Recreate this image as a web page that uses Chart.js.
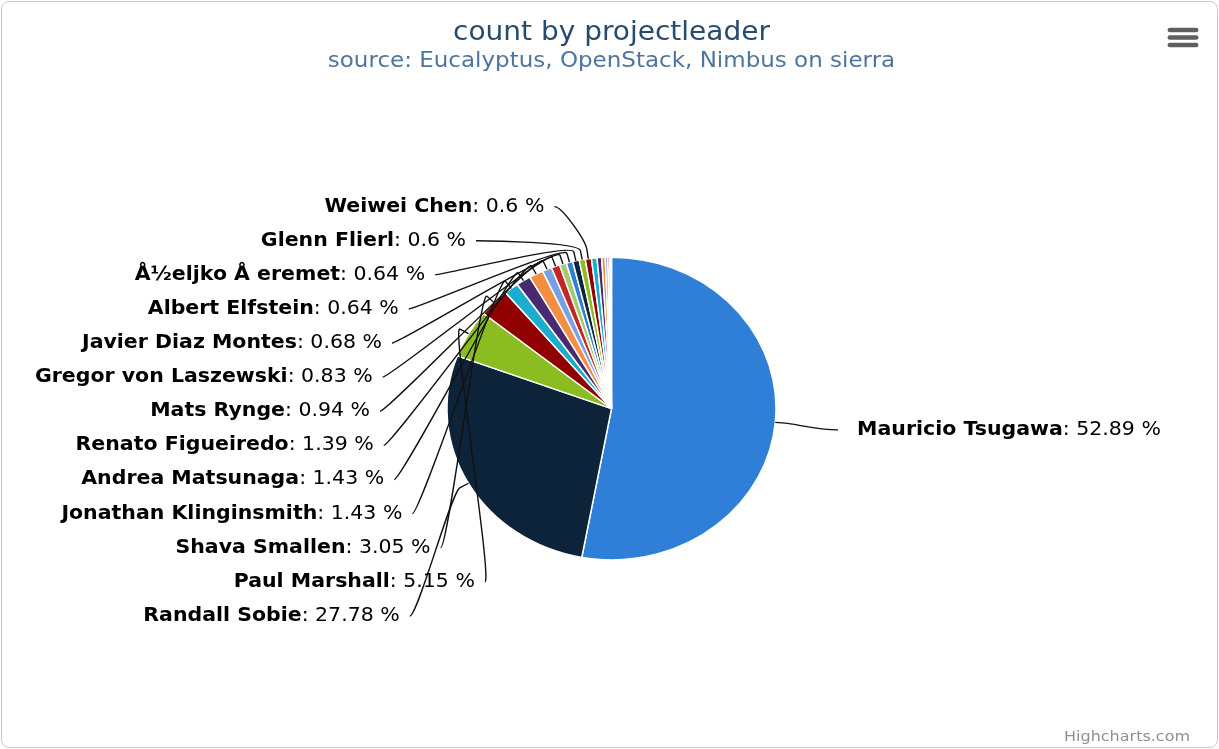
<!DOCTYPE html>
<html>
<head>
<meta charset="utf-8">
<title>count by projectleader</title>
<script src="https://cdn.jsdelivr.net/npm/chart.js@4.4.1/dist/chart.umd.min.js"></script>
<style>
  html, body { margin: 0; padding: 0; background: #fff; }
  #wrap { position: absolute; left: 0; top: 0; width: 1219px; height: 749px; overflow: hidden; }
  #frame { position: absolute; left: 1px; top: 1px; width: 1215px; height: 745px;
           border: 1px solid #c9c9c9; border-radius: 8px; pointer-events: none; }
</style>
</head>
<body>
<div id="wrap"><canvas id="pie" width="1219" height="814"></canvas></div>
<div id="frame"></div>
<script>
// labelled slices, in drawing order (clockwise from 12 o'clock)
const leaders = [
  'Mauricio Tsugawa', 'Randall Sobie', 'Paul Marshall', 'Shava Smallen',
  'Jonathan Klinginsmith', 'Andrea Matsunaga', 'Renato Figueiredo', 'Mats Rynge',
  'Gregor von Laszewski', 'Javier Diaz Montes', 'Albert Elfstein',
  'Å½eljko Å\u00a0eremet', 'Glenn Flierl', 'Weiwei Chen'
];
const shares = [52.89, 27.78, 5.15, 3.05, 1.43, 1.43, 1.39, 0.94, 0.83, 0.68, 0.64, 0.64, 0.6, 0.6];
// thin slivers left of 12 o'clock, their labels were dropped in the original
const unlabeledShares = [0.55, 0.45, 0.35, 0.25, 0.2, 0.15];

const palette = ['#2f7ed8', '#0d233a', '#8bbc21', '#910000', '#1aadce',
                 '#492970', '#f28f43', '#77a1e5', '#c42525', '#a6c96a'];
const titleText = 'count by projectleader';
const subtitleText = 'source: Eucalyptus, OpenStack, Nimbus on sierra';
const creditText = 'Highcharts.com';

const FONT = "'DejaVu Sans', Verdana, sans-serif";
const SQUASH = 0.92; // original picture was stretched wider than tall

const allShares = shares.concat(unlabeledShares);
const allLabels = leaders.concat(unlabeledShares.map(() => ''));
const colors = allShares.map((v, i) => palette[i % palette.length]);

const pieLabels = {
  id: 'pieLabels',
  beforeDraw(chart) {
    chart.ctx.save();
    chart.ctx.scale(1, SQUASH);
  },
  afterDatasetsDraw(chart) {
    const ctx = chart.ctx;
    const arcs = chart.getDatasetMeta(0).data;
    const r = arcs[0].outerRadius, cx = arcs[0].x, cy = arcs[0].y;
    const rx = r + 77, ry = r + 64, slotHalf = r + 58;
    const xGap = (y) => {
      const t = (y - cy) / ry;
      return rx * Math.sqrt(Math.max(0, 1 - t * t));
    };

    const items = leaders.map((name, i) => {
      const a = arcs[i];
      const mid = (a.startAngle + a.endAngle) / 2;
      const ny = cy + Math.sin(mid) * slotHalf;
      return { name, value: shares[i], mid, left: Math.cos(mid) < 0, ny, y: ny + 3, xy: ny };
    });

    // left side: stack labels in even slots, bottom slot for the first one
    const left = items.filter(d => d.left);
    const n = left.length;
    left.forEach((d, j) => {
      const slot = n - 1 - j;
      d.y = cy + 3 - slotHalf + slot * (2 * slotHalf / (n - 1));
      d.xy = (slot === n - 1) ? d.ny : d.y;
    });

    ctx.save();
    ctx.textBaseline = 'middle';
    ctx.strokeStyle = '#111';
    ctx.lineWidth = 1.4;
    items.forEach(d => {
      const boldFont = 'bold 20.5px ' + FONT;
      const normFont = '20.5px ' + FONT;
      const tail = ': ' + d.value + ' %';
      ctx.font = boldFont;
      const wName = ctx.measureText(d.name).width;
      ctx.font = normFont;
      const wTail = ctx.measureText(tail).width;

      let textLeft, mx, c1;
      if (d.left) {
        const textRight = cx - xGap(d.xy);
        textLeft = textRight - wName - wTail;
        mx = textRight + 10;
        c1 = mx + 8;
      } else {
        textLeft = cx + xGap(d.xy) + 5;
        mx = textLeft - 19;
        c1 = mx - 20;
      }

      // connector
      const tx = cx + Math.cos(d.mid) * r, ty = cy + Math.sin(d.mid) * r;
      const bx = cx + Math.cos(d.mid) * (r + 10), by = cy + Math.sin(d.mid) * (r + 10);
      ctx.beginPath();
      ctx.moveTo(mx, d.y);
      ctx.bezierCurveTo(c1, d.y, 2 * bx - tx, 2 * by - ty, bx, by);
      ctx.lineTo(tx, ty);
      ctx.stroke();

      // text
      ctx.fillStyle = '#000';
      ctx.textAlign = 'left';
      ctx.font = boldFont;
      ctx.fillText(d.name, textLeft, d.y);
      ctx.font = normFont;
      ctx.fillText(tail, textLeft + wName, d.y);
    });

    // credit
    ctx.font = '16px ' + FONT;
    ctx.fillStyle = '#909090';
    ctx.textAlign = 'right';
    ctx.fillText(creditText, 1190, 737 / SQUASH);

    // context menu icon
    ctx.strokeStyle = '#5f5f5f';
    ctx.lineWidth = 5;
    ctx.lineCap = 'round';
    [30, 37.5, 45].forEach(y => {
      ctx.beginPath();
      ctx.moveTo(1170, y / SQUASH);
      ctx.lineTo(1196, y / SQUASH);
      ctx.stroke();
    });
    ctx.restore();
  },
  afterDraw(chart) {
    chart.ctx.restore();
  }
};

new Chart(document.getElementById('pie'), {
  type: 'pie',
  data: {
    labels: allLabels,
    datasets: [{
      data: allShares,
      backgroundColor: colors,
      borderColor: '#ffffff',
      borderWidth: 1.5,
      radius: 164.5
    }]
  },
  options: {
    responsive: false,
    devicePixelRatio: 1,
    animation: false,
    events: [],
    layout: { padding: { left: 4, right: 0, top: 0, bottom: 6 } },
    plugins: {
      legend: { display: false },
      tooltip: { enabled: false },
      title: {
        display: true,
        text: titleText,
        color: '#274b6d',
        font: { family: FONT, size: 28, weight: 'normal' },
        padding: { top: 19, bottom: 0 }
      },
      subtitle: {
        display: true,
        text: subtitleText,
        color: '#4d759e',
        font: { family: FONT, size: 23, weight: 'normal' },
        padding: { top: 0, bottom: 0 }
      }
    }
  },
  plugins: [pieLabels]
});
</script>
</body>
</html>
